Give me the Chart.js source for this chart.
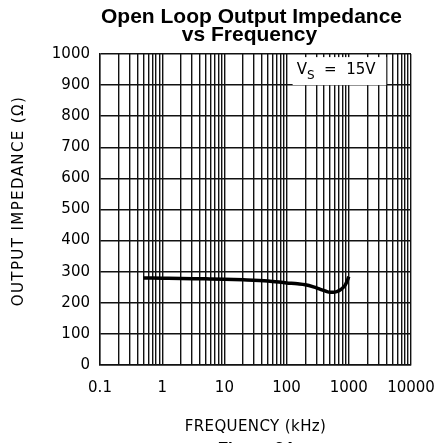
<!DOCTYPE html>
<html>
<head>
<meta charset="utf-8">
<title>Open Loop Output Impedance vs Frequency</title>
<script src="https://cdn.jsdelivr.net/npm/chart.js@4.4.1/dist/chart.umd.min.js"></script>
<style>
  html, body { margin: 0; padding: 0; background: #fff; }
  #wrap { width: 438px; height: 443px; position: relative; }
</style>
</head>
<body>
<div id="wrap"><canvas id="zoutChart"></canvas></div>
<script>
// open loop output impedance, Vs = 15V
const freqKHz = [0.5, 1, 2, 5, 10, 20, 50, 100, 150, 200, 270, 350, 430, 500, 560, 640, 725, 800, 875, 940, 1000];
const zOut    = [280, 279, 278, 277, 276, 274, 270, 264, 261, 258, 251, 243, 237, 234, 234, 236, 241, 248, 257, 270, 284];

const decades = [0.1, 1, 10, 100, 1000, 10000];
const decadeLabels = ['0.1', '1', '10', '100', '1000', '10000'];
const yTicks = [0, 100, 200, 300, 400, 500, 600, 700, 800, 900, 1000];

const titleLines = ['Open Loop Output Impedance', 'vs Frequency'];
const xTitle = 'FREQUENCY (kHz)';
const yTitle = 'OUTPUT IMPEDANCE (\u03A9)';
const caption = 'Figure 34';

// grid positions 1..9 x each decade
const xGrid = [];
decades.slice(0, -1).forEach(d => {
  for (let m = 1; m <= 9; m++) xGrid.push(+(d * m).toPrecision(3));
});
xGrid.push(10000);

const tickFont = { family: 'DejaVu Sans', size: 15 };

// keep the plot box fixed, labels may hang over the edges
const noOverhang = s => { s.paddingLeft = 0; s.paddingRight = 0; s.paddingTop = 0; s.paddingBottom = 0; };

const textPlugin = {
  id: 'texts',
  afterDraw(chart) {
    const ctx = chart.ctx;
    const area = chart.chartArea;
    const x = chart.scales.x, y = chart.scales.y;
    const cx = (area.left + area.right) / 2;
    ctx.save();

    // supply voltage note over the grid
    const bx0 = x.getPixelForValue(125), bx1 = x.getPixelForValue(4000);
    const by0 = y.getPixelForValue(990), by1 = y.getPixelForValue(900);
    ctx.fillStyle = '#fff';
    ctx.fillRect(bx0, by0, bx1 - bx0, by1 - by0);
    ctx.fillStyle = '#000';
    ctx.textBaseline = 'alphabetic';
    ctx.textAlign = 'left';
    ctx.font = '15px "DejaVu Sans"';
    let tx = bx0 + 4;
    const base = by0 + 16.5;
    ctx.fillText('V', tx, base);
    tx += ctx.measureText('V').width;
    ctx.font = '12px "DejaVu Sans"';
    ctx.fillText('S', tx, base + 5);
    tx += ctx.measureText('S').width;
    ctx.font = '15px "DejaVu Sans"';
    ctx.fillText('  =  15V', tx, base);

    // chart title
    ctx.font = 'bold 21px "Liberation Sans"';
    ctx.textAlign = 'center';
    ctx.fillText(titleLines[0], cx - 4, 22.5);
    ctx.fillText(titleLines[1], cx - 6, 40.5);

    // axis titles
    ctx.font = '15px "DejaVu Sans"';
    ctx.textBaseline = 'middle';
    ctx.letterSpacing = '0.4px';
    ctx.fillText(xTitle, cx, 427);
    ctx.save();
    ctx.letterSpacing = '1.4px';
    ctx.translate(19, 201);
    ctx.rotate(-Math.PI / 2);
    ctx.fillText(yTitle, 0, 0);
    ctx.restore();
    ctx.letterSpacing = '0px';

    ctx.font = 'bold 17px "Liberation Sans"';
    ctx.textBaseline = 'top';
    ctx.fillText(caption, cx, 441);
    ctx.restore();
  }
};

new Chart(document.getElementById('zoutChart'), {
  type: 'line',
  data: {
    datasets: [{
      data: freqKHz.map((f, i) => ({ x: f, y: zOut[i] })),
      borderColor: '#000',
      borderWidth: 3.5,
      pointRadius: 0,
      cubicInterpolationMode: 'monotone',
      fill: false
    }]
  },
  options: {
    responsive: true,
    maintainAspectRatio: false,
    animation: false,
    layout: { padding: { top: 54, right: 27, left: 0, bottom: 0 } },
    plugins: { legend: { display: false }, tooltip: { enabled: false } },
    scales: {
      x: {
        type: 'logarithmic',
        min: 0.1,
        max: 10000,
        afterBuildTicks: s => { s.ticks = xGrid.map(v => ({ value: v })); },
        afterFit: s => { s.height = 78; noOverhang(s); },
        ticks: {
          autoSkip: false,
          maxRotation: 0,
          padding: 14,
          color: '#000',
          font: tickFont,
          callback: v => {
            const i = decades.findIndex(d => Math.abs(d - v) < d * 1e-6);
            return i >= 0 ? decadeLabels[i] : '';
          }
        },
        grid: { color: '#111', lineWidth: 1.4, drawTicks: false },
        border: { color: '#111', width: 1.4 }
      },
      y: {
        min: 0,
        max: 1000,
        afterBuildTicks: s => { s.ticks = yTicks.map(v => ({ value: v })); },
        afterFit: s => { s.width = 100; noOverhang(s); },
        ticks: { padding: 10, color: '#000', font: tickFont, callback: v => String(v) },
        grid: { color: '#111', lineWidth: 1.4, drawTicks: false },
        border: { color: '#111', width: 1.4 }
      }
    }
  },
  plugins: [textPlugin]
});
</script>
</body>
</html>
